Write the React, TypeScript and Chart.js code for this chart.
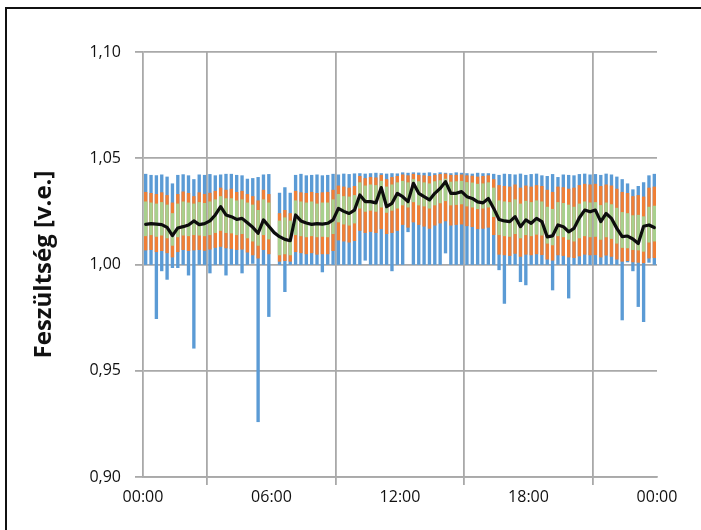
import React, { useEffect, useRef } from "react";
import { Chart, registerables } from "chart.js";

Chart.register(...registerables);

const xTickLabels = ["00:00", "06:00", "12:00", "18:00", "00:00"];
const yTitle = "Feszültség [v.e.]";

const maxV = [
  1.0425, 1.042, 1.0418, 1.0422, 1.0412, 1.038, 1.042, 1.0423, 1.0418, 1.04, 1.0422, 1.042, 1.0424, 1.0418, 1.0422, 1.0425,
  1.0425, 1.042, 1.0418, 1.0402, 1.0405, 1.041, 1.0422, 1.0424, null, 1.0336, 1.0362, 1.0336, 1.042, 1.0425, 1.0418, 1.042,
  1.0422, 1.0418, 1.042, 1.0425, 1.0422, 1.0426, 1.0424, 1.0427, 1.0428, 1.0426, 1.0428, 1.043, 1.0428, 1.0426, 1.0428, 1.0427,
  1.0432, 1.043, 1.0432, 1.0431, 1.043, 1.0432, 1.0428, 1.0432, 1.043, 1.0428, 1.0432, 1.043, 1.0428, 1.0426, 1.043, 1.0428,
  1.0428, 1.0425, 1.042, 1.0426, 1.0424, 1.0422, 1.0426, 1.042, 1.0424, 1.0426, 1.0418, 1.0415, 1.0424, 1.041, 1.0422, 1.042,
  1.0418, 1.0424, 1.0426, 1.0422, 1.0424, 1.042, 1.0426, 1.0422, 1.0412, 1.04, 1.038, 1.0352, 1.0368, 1.0385, 1.0418, 1.0425,
];

const oHi = [
  1.034, 1.0335, 1.033, 1.0338, 1.0325, 1.029, 1.033, 1.0342, 1.0335, 1.032, 1.0338, 1.033, 1.0336, 1.0345, 1.036, 1.035,
  1.0355, 1.034, 1.0345, 1.033, 1.032, 1.03, 1.035, 1.033, null, 1.024, 1.0255, 1.024, 1.0345, 1.0338, 1.0335, 1.034,
  1.0335, 1.0338, 1.034, 1.035, 1.037, 1.0365, 1.036, 1.0368, 1.0415, 1.0405, 1.041, 1.0408, 1.042, 1.04, 1.041, 1.0415,
  1.0422, 1.0418, 1.0425, 1.042, 1.0418, 1.0415, 1.042, 1.0424, 1.0426, 1.042, 1.042, 1.0422, 1.0418, 1.0416, 1.0412, 1.0415,
  1.0418, 1.04, 1.0372, 1.0368, 1.0365, 1.0375, 1.036, 1.037, 1.0365, 1.0372, 1.0368, 1.035, 1.034, 1.0365, 1.0362, 1.0355,
  1.036, 1.0372, 1.0378, 1.0375, 1.0378, 1.0368, 1.0375, 1.037, 1.0355, 1.034, 1.0335, 1.032, 1.0325, 1.0318, 1.036, 1.0365,
];

const gHi = [
  1.0295, 1.029, 1.0285, 1.0292, 1.028, 1.024, 1.0285, 1.0295, 1.029, 1.0285, 1.0292, 1.0288, 1.0295, 1.0305, 1.032, 1.031,
  1.031, 1.03, 1.0305, 1.029, 1.028, 1.0255, 1.0305, 1.029, null, 1.0205, 1.022, 1.0205, 1.03, 1.0295, 1.029, 1.0295,
  1.0285, 1.029, 1.029, 1.0305, 1.033, 1.032, 1.0318, 1.0325, 1.0385, 1.037, 1.0375, 1.0372, 1.0392, 1.0365, 1.0375, 1.0385,
  1.0392, 1.0385, 1.04, 1.039, 1.0385, 1.038, 1.039, 1.0395, 1.0402, 1.0388, 1.039, 1.0392, 1.0386, 1.0384, 1.0378, 1.038,
  1.0385, 1.036, 1.03, 1.0295, 1.0292, 1.0305, 1.0285, 1.0298, 1.0292, 1.03, 1.0295, 1.027, 1.026, 1.0292, 1.0288, 1.028,
  1.027, 1.0285, 1.0295, 1.029, 1.0292, 1.0278, 1.029, 1.0282, 1.0265, 1.0245, 1.024, 1.023, 1.0232, 1.0225, 1.027, 1.0275,
];

const gLo = [
  1.0135, 1.014, 1.0132, 1.0138, 1.0125, 1.009, 1.013, 1.0138, 1.0135, 1.014, 1.0138, 1.0135, 1.014, 1.015, 1.016, 1.015,
  1.0148, 1.014, 1.0145, 1.0125, 1.011, 1.009, 1.014, 1.012, null, 1.0045, 1.005, 1.0045, 1.014, 1.0135, 1.013, 1.0135,
  1.013, 1.0132, 1.013, 1.0145, 1.02, 1.019, 1.0185, 1.0195, 1.0265, 1.025, 1.0255, 1.025, 1.027, 1.0245, 1.0255, 1.0265,
  1.028, 1.027, 1.0295, 1.028, 1.0275, 1.0265, 1.028, 1.029, 1.03, 1.028, 1.0282, 1.0285, 1.0275, 1.027, 1.0262, 1.0265,
  1.027, 1.0225, 1.014, 1.0135, 1.0132, 1.0145, 1.0125, 1.014, 1.0135, 1.0142, 1.0138, 1.01, 1.0092, 1.0135, 1.013, 1.0118,
  1.011, 1.0125, 1.0135, 1.013, 1.0132, 1.0118, 1.013, 1.0122, 1.01, 1.008, 1.0078, 1.007, 1.0068, 1.0062, 1.0105, 1.011,
];

const oLo = [
  1.0068, 1.007, 1.006, 1.0065, 1.0055, 1.0035, 1.006, 1.007, 1.0065, 1.0068, 1.007, 1.0066, 1.0072, 1.008, 1.0085, 1.0078,
  1.0075, 1.007, 1.0072, 1.0058, 1.0045, 1.003, 1.007, 1.005, null, 1.0015, 1.0018, 1.0015, 1.006, 1.0055, 1.005, 1.0055,
  1.0048, 1.005, 1.005, 1.0065, 1.0115, 1.011, 1.0105, 1.0112, 1.016, 1.015, 1.0155, 1.015, 1.0168, 1.0145, 1.015, 1.016,
  1.0188, 1.0175, 1.02, 1.0188, 1.018, 1.017, 1.0185, 1.0195, 1.0205, 1.0185, 1.0188, 1.019, 1.0182, 1.0178, 1.0168, 1.017,
  1.0175, 1.014, 1.0048, 1.0045, 1.0042, 1.0052, 1.0038, 1.0048, 1.0045, 1.005, 1.0046, 1.0025, 1.002, 1.0045, 1.0042, 1.0035,
  1.0032, 1.004, 1.0048, 1.0045, 1.0046, 1.0035, 1.0044, 1.0038, 1.0025, 1.0015, 1.0018, 1.0012, 1.001, 1.0008, 1.003, 1.0032,
];

const minV = [
  1.0, 1.0, 0.9745, 0.997, 0.993, 0.9985, 0.9985, 1.0, 0.995, 0.9606, 1.0, 1.0, 0.996, 1.0, 1.0, 0.995,
  1.0, 1.0, 0.996, 1.0, 1.0005, 0.926, 1.0, 0.9755, null, 1.0, 0.9872, 1.0, 1.0, 1.0, 1.0, 1.0,
  1.0, 0.9965, 1.0, 1.0, 1.0, 1.0, 1.0, 1.0, 1.0, 1.002, 1.0, 1.0, 1.0, 1.0, 0.997, 1.0,
  1.0, 1.0154, 1.0, 1.0, 1.0, 1.0, 1.0, 1.0, 1.0054, 1.0, 1.0, 1.0, 1.0, 1.0, 1.0, 1.0,
  1.0, 1.0, 0.9975, 0.9817, 1.0, 1.0, 0.9919, 0.9904, 1.0, 1.0, 1.0, 1.0, 0.988, 1.0, 1.0, 0.9842,
  1.0, 1.0, 1.0, 1.0, 1.0, 1.0, 1.0, 1.0, 1.0, 0.9739, 1.0012, 0.997, 0.9802, 0.9731, 1.001, 1.0,
];

const meanV = [
  1.0189, 1.0192, 1.019, 1.0188, 1.0175, 1.0136, 1.0172, 1.0178, 1.0186, 1.0205, 1.0188, 1.0192, 1.0205, 1.0233, 1.0272, 1.0233,
  1.0225, 1.0212, 1.0217, 1.0196, 1.0175, 1.0147, 1.021, 1.018, 1.015, 1.0131, 1.0118, 1.0112, 1.0233, 1.0205, 1.0195, 1.0189,
  1.0192, 1.019, 1.0194, 1.021, 1.0264, 1.025, 1.024, 1.0256, 1.0327, 1.0296, 1.0296, 1.029, 1.0362, 1.0272, 1.0288, 1.0335,
  1.0319, 1.0296, 1.0382, 1.0335, 1.0319, 1.0304, 1.0335, 1.0358, 1.039, 1.0335, 1.0335, 1.0343, 1.0319, 1.0311, 1.0295, 1.029,
  1.0311, 1.0264, 1.0212, 1.0205, 1.0202, 1.0225, 1.0178, 1.021, 1.0194, 1.0217, 1.0202, 1.013, 1.0135, 1.0186, 1.0178, 1.0154,
  1.017, 1.022, 1.0256, 1.0248, 1.0256, 1.0202, 1.024, 1.0217, 1.017, 1.0131, 1.0134, 1.012, 1.0099, 1.018, 1.0186, 1.0174,
];

const range = (lo: (number | null)[], hi: (number | null)[]) =>
  lo
    .map((l, i) => (l == null || hi[i] == null ? null : { x: i + 0.5, y: [l, hi[i]] }))
    .filter((p) => p !== null);

export default function App() {
  const ref = useRef<HTMLCanvasElement | null>(null);

  useEffect(() => {
    if (!ref.current) return;
    const gridColor = "#a9a9a9";
    const barCommon = {
      type: "bar" as const,
      barThickness: 2.7,
      grouped: false,
      borderWidth: 0,
    };
    const chart = new Chart(ref.current, {
      type: "bar",
      data: {
        datasets: [
          {
            ...barCommon,
            label: "min-max",
            data: range(minV, maxV) as any,
            backgroundColor: "#5b9bd5",
            order: 3,
          },
          {
            ...barCommon,
            label: "orange",
            data: range(oLo, oHi) as any,
            backgroundColor: "#ef7f36",
            order: 2,
          },
          {
            ...barCommon,
            label: "green",
            data: range(gLo, gHi) as any,
            backgroundColor: "#a8d08d",
            order: 1,
          },
          {
            type: "line",
            label: "átlag",
            data: meanV.map((v, i) => ({ x: i + 0.5, y: v })) as any,
            borderColor: "#0d0d0d",
            borderWidth: 3.2,
            borderJoinStyle: "round",
            borderCapStyle: "round",
            pointRadius: 0,
            tension: 0,
            order: 0,
          } as any,
        ],
      },
      options: {
        responsive: false,
        animation: false,
        layout: { padding: { left: 0, top: 52, right: 44, bottom: 0 } },
        plugins: { legend: { display: false }, tooltip: { enabled: false } },
        scales: {
          x: {
            type: "linear",
            min: 0,
            max: 96,
            offset: false,
            afterFit: (s: any) => {
              s.height = 53;
            },
            afterBuildTicks: (s: any) => {
              s.ticks = [0, 24, 48, 72, 96].map((v) => ({ value: v }));
            },
            ticks: {
              callback: (v: any) => xTickLabels[Math.round(Number(v) / 24)],
              font: { family: "'Open Sans'", size: 16 },
              color: "#111",
              padding: 3,
              maxRotation: 0,
              autoSkip: false,
            },
            grid: { color: gridColor, lineWidth: 1.8, tickLength: 8, drawTicks: true },
            border: { color: gridColor, width: 1.8 },
          },
          y: {
            min: 0.9,
            max: 1.1,
            afterFit: (s: any) => {
              s.width = 143;
            },
            afterBuildTicks: (s: any) => {
              s.ticks = [0.9, 0.95, 1.0, 1.05, 1.1].map((v) => ({ value: v }));
            },
            ticks: {
              callback: (v: any) => Number(v).toFixed(2).replace(".", ","),
              font: { family: "'Open Sans'", size: 16 },
              color: "#111",
              padding: 14,
            },
            grid: { color: gridColor, lineWidth: 1.8, tickLength: 8 },
            border: { color: gridColor, width: 1.8 },
            title: {
              display: true,
              text: yTitle,
              font: { family: "'Open Sans'", size: 24, weight: "bold" },
              color: "#111",
              padding: { top: 30, bottom: 0 },
            },
          },
        },
      },
    });
    return () => chart.destroy();
  }, []);

  return (
    <div style={{ position: "fixed", left: 0, top: 0, width: 701, height: 530, background: "#fff" }}>
      <div
        style={{
          position: "absolute",
          left: 5,
          top: 7,
          width: 696,
          height: 523,
          borderLeft: "2px solid #111",
          borderTop: "2px solid #111",
          boxSizing: "border-box",
        }}
      />
      <canvas ref={ref} width={701} height={530} style={{ position: "absolute", left: 0, top: 0 }} />
    </div>
  );
}
